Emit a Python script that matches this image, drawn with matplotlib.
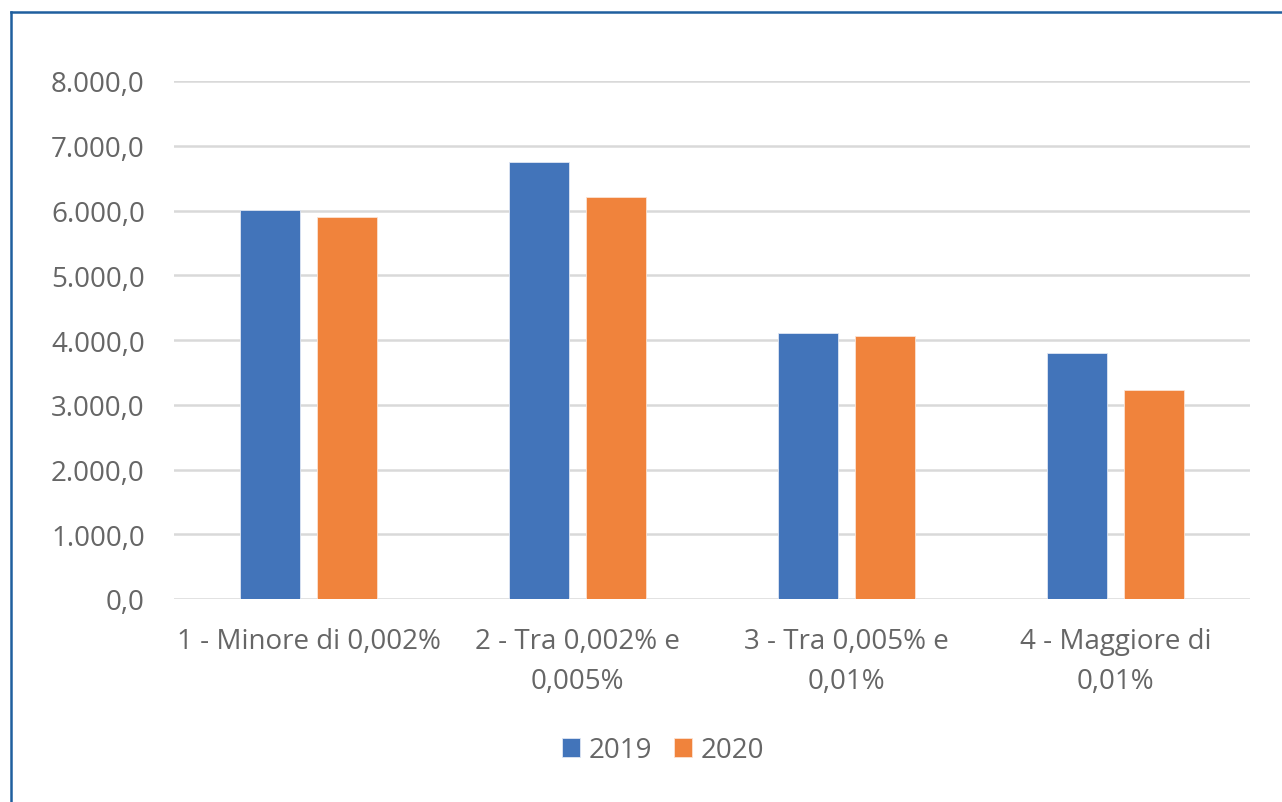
import numpy as np
import matplotlib.pyplot as plt
from matplotlib.lines import Line2D
from matplotlib.ticker import FuncFormatter

categories = ["1 - Minore di 0,002%", "2 - Tra 0,002% e\n0,005%",
              "3 - Tra 0,005% e\n0,01%", "4 - Maggiore di\n0,01%"]
values_2019 = [6015, 6750, 4107, 3798]
values_2020 = [5892, 6216, 4056, 3231]
series_names = ["2019", "2020"]

W, H = 1282, 803
plt.rcParams['font.family'] = ['Open Sans', 'DejaVu Sans']
text_col = "#666666"

fig = plt.figure(figsize=(W / 100, H / 100), dpi=100)
ax = fig.add_axes([174 / W, 1 - 600 / H, (1250 - 174) / W, (600 - 82) / H])

x = np.arange(len(categories))
bw = 0.223
off = 0.143
ax.bar(x - off, values_2019, bw, color="#4274BA", edgecolor="#dfe6f3", linewidth=0.6,
       label=series_names[0], zorder=3)
ax.bar(x + off, values_2020, bw, color="#F0833C", edgecolor="#fbe2d2", linewidth=0.6,
       label=series_names[1], zorder=3)

ax.set_xlim(-0.5, len(categories) - 0.5)
ax.set_ylim(0, 8000)
ax.set_yticks(np.arange(0, 8001, 1000))


def it_fmt(v, pos):
    s = f"{v:,.1f}"
    return s.replace(",", "X").replace(".", ",").replace("X", ".")


ax.yaxis.set_major_formatter(FuncFormatter(it_fmt))
ax.set_xticks(x)
ax.set_xticklabels(categories, linespacing=1.6)
ax.tick_params(axis="y", length=0, pad=21, labelsize=20, labelcolor=text_col)
ax.tick_params(axis="x", length=0, pad=20, labelsize=20, labelcolor=text_col)
ax.grid(axis="y", color="#d9d9d9", linewidth=1.8, zorder=0)
for sp in ax.spines.values():
    sp.set_visible(False)

leg = fig.legend(loc="center", bbox_to_anchor=(663 / W, 1 - 751 / H), ncol=2, frameon=False,
                 fontsize=20, handlelength=0.65, handleheight=0.65, handletextpad=0.3,
                 columnspacing=0.8)
for t in leg.get_texts():
    t.set_color(text_col)

# bordo del grafico
fig.add_artist(Line2D([11 / W, 11 / W], [0, 1 - 13 / H], color="#1f5f9e", linewidth=1.8))
fig.add_artist(Line2D([11 / W, 1], [1 - 13 / H, 1 - 13 / H], color="#1f5f9e", linewidth=1.8))

fig.savefig("out.png", dpi=100)
